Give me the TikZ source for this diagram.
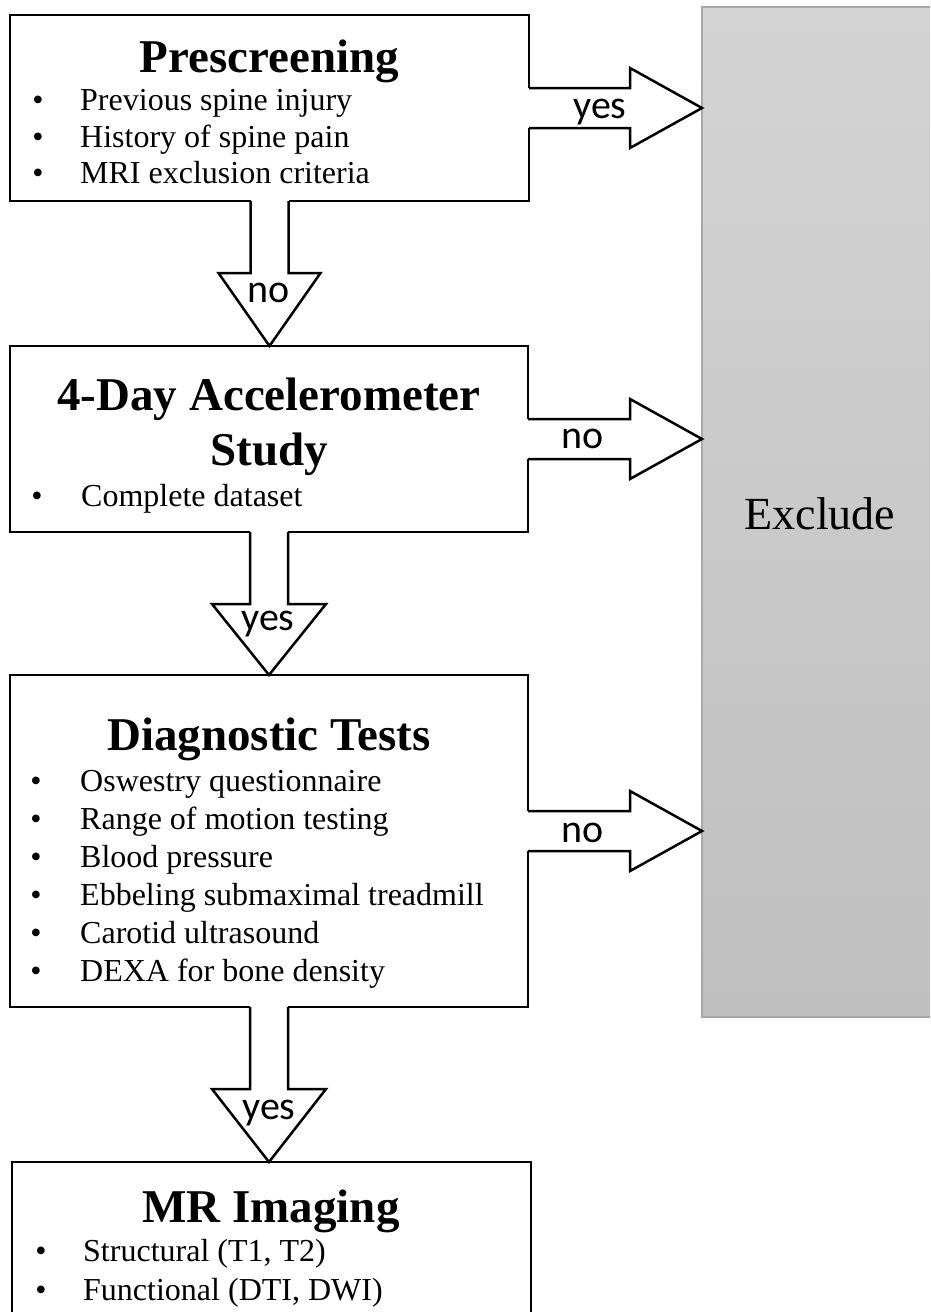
\documentclass[tikz,border=0pt]{standalone}
\usepackage{fontspec}
\setmainfont{Liberation Serif}
\newfontfamily\lblfont{Carlito}
\usetikzlibrary{calc}
\definecolor{exTop}{HTML}{D4D4D4}
\definecolor{exBot}{HTML}{BFBFBF}
\definecolor{exEdge}{HTML}{A8A8A8}
\newcommand{\blockdown}[4]{%
  \path (#1.south) coordinate (st);
  \path (st |- #2.north) coordinate (tp);
  \path (tp) ++(0,-#4) coordinate (hd);
  \fill[white] ([xshift=-19pt,yshift=3pt]st) rectangle ([xshift=19pt]hd);
  \fill[white] ([xshift=-#3pt]hd) -- (tp) -- ([xshift=#3pt]hd) -- cycle;
  \draw[arrowline] ([xshift=-19pt]st) -- ([xshift=-19pt]hd) -- ([xshift=-#3pt]hd) -- (tp)
    -- ([xshift=#3pt]hd) -- ([xshift=19pt]hd) -- ([xshift=19pt]st);
}
\newcommand{\blockright}[3]{%
  \path (#1.east |- #3) coordinate (st);
  \path (#2.west |- #3) coordinate (tp);
  \path (tp) ++(-72,0) coordinate (hr);
  \fill[white] ([xshift=-3pt,yshift=20pt]st) rectangle ([yshift=-20pt]hr);
  \fill[white] ([yshift=40pt]hr) -- (tp) -- ([yshift=-40pt]hr) -- cycle;
  \draw[arrowline] ([yshift=20pt]st) -- ([yshift=20pt]hr) -- ([yshift=40pt]hr) -- (tp)
    -- ([yshift=-40pt]hr) -- ([yshift=-20pt]hr) -- ([yshift=-20pt]st);
}
\begin{document}
\begin{tikzpicture}[x=1pt,y=-1pt,
  box/.style={draw=black, line width=2.8pt, fill=white, rectangle, inner sep=0pt, outer sep=0pt, anchor=north west},
  arrowline/.style={draw=black, line width=2.5pt, line join=miter},
  ttl/.style={anchor=base, inner sep=0pt, font=\fontsize{47}{56}\selectfont\bfseries},
  itm/.style={anchor=base west, inner sep=0pt, font=\fontsize{32}{38}\selectfont},
  bul/.style={anchor=base, inner sep=0pt, font=\fontsize{32}{38}\selectfont},
  lbl/.style={anchor=base, inner sep=0pt, font=\lblfont\fontsize{40}{48}\selectfont},
  exbox/.style={draw=exEdge, line width=1.5pt, top color=exTop, bottom color=exBot, rectangle, inner sep=0pt, outer sep=0pt, anchor=north west},
]
\clip (0,0) rectangle (930,1312);
\fill[white] (0,0) rectangle (930,1312);

% Exclude column
\node[exbox, minimum width=240pt, minimum height=1010pt] (excl) at (702,7) {};
\node[anchor=base, inner sep=0pt, font=\fontsize{46}{55}\selectfont] (exclt) at (820,529) {Exclude};

% boxes
\node[box, minimum width=519pt, minimum height=186pt] (pre) at (10,15) {};
\node[box, minimum width=518pt, minimum height=186pt] (acc) at (10,346) {};
\node[box, minimum width=518pt, minimum height=332pt] (diag) at (10,675) {};
\node[box, minimum width=519pt, minimum height=200pt] (mri) at (12,1162) {};

% Prescreening text
\node[ttl] (pre-t) at (269.5,72) {Prescreening};
\node[bul] (pre-b1) at (38,110) {\textbullet};
\node[itm] (pre-i1) at (80,110) {Previous spine injury};
\node[bul] (pre-b2) at (38,147) {\textbullet};
\node[itm] (pre-i2) at (80,147) {History of spine pain};
\node[bul] (pre-b3) at (38,183) {\textbullet};
\node[itm] (pre-i3) at (80,183) {MRI exclusion criteria};

% Accelerometer text
\node[ttl] (acc-t1) at (269,410) {4-Day Accelerometer};
\node[ttl] (acc-t2) at (269,465) {Study};
\node[bul] (acc-b1) at (37,506) {\textbullet};
\node[itm] (acc-i1) at (81,506) {Complete dataset};

% Diagnostic text
\node[ttl] (diag-t) at (269,750) {Diagnostic Tests};
\node[bul] (diag-b1) at (36,791) {\textbullet};
\node[itm] (diag-i1) at (80,791) {Oswestry questionnaire};
\node[bul] (diag-b2) at (36,829) {\textbullet};
\node[itm] (diag-i2) at (80,829) {Range of motion testing};
\node[bul] (diag-b3) at (36,867) {\textbullet};
\node[itm] (diag-i3) at (80,867) {Blood pressure};
\node[bul] (diag-b4) at (36,905) {\textbullet};
\node[itm] (diag-i4) at (80,905) {Ebbeling submaximal treadmill};
\node[bul] (diag-b5) at (36,943) {\textbullet};
\node[itm] (diag-i5) at (80,943) {Carotid ultrasound};
\node[bul] (diag-b6) at (36,981) {\textbullet};
\node[itm] (diag-i6) at (80,981) {DEXA for bone density};

% MR text
\node[ttl] (mri-t) at (271,1222) {MR Imaging};
\node[bul] (mri-b1) at (41,1261) {\textbullet};
\node[itm] (mri-i1) at (83,1261) {Structural (T1, T2)};
\node[bul] (mri-b2) at (41,1300) {\textbullet};
\node[itm] (mri-i2) at (83,1300) {Functional (DTI, DWI)};

% axis coordinates for right arrows
\coordinate (r1) at (0,108);
\coordinate (r2) at (0,439);
\coordinate (r3) at (0,831);

% block arrows
\blockright{pre}{excl}{r1}
\blockright{acc}{excl}{r2}
\blockright{diag}{excl}{r3}
\blockdown{pre}{acc}{51}{73}
\blockdown{acc}{diag}{57}{71}
\blockdown{diag}{mri}{57}{73}

% labels
\node[lbl] (l1) at (600,118) {yes};
\node[lbl] (l2) at (583,448) {no};
\node[lbl] (l3) at (583,842) {no};
\node[lbl] (l4) at (269,302) {no};
\node[lbl] (l5) at (268,630) {yes};
\node[lbl] (l6) at (269,1119) {yes};
\end{tikzpicture}
\end{document}
